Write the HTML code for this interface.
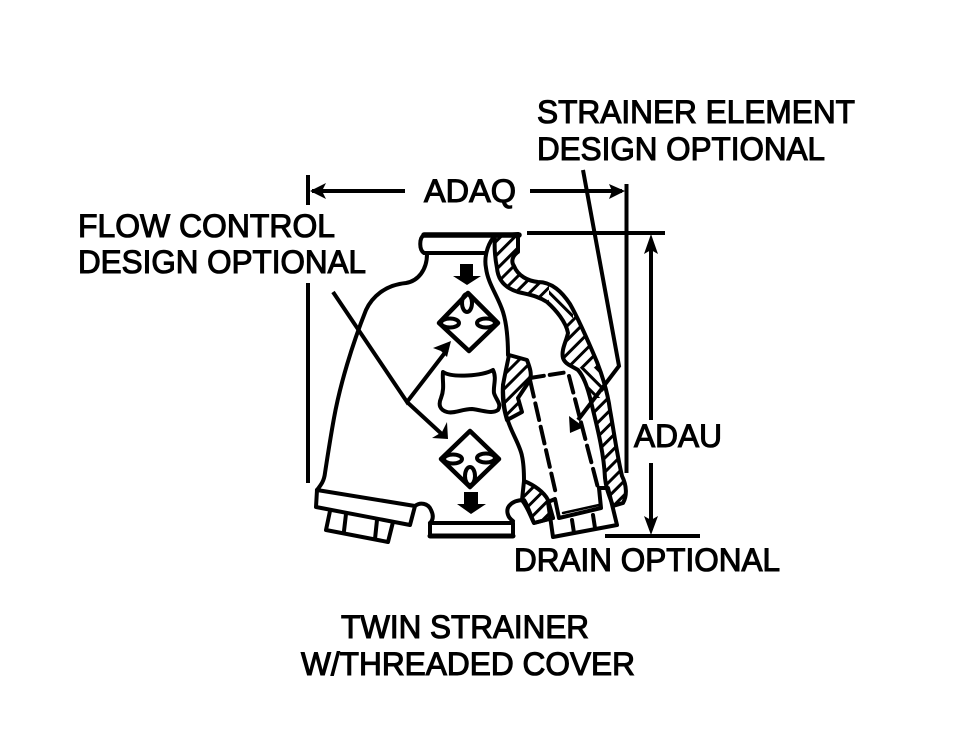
<!DOCTYPE html>
<html><head><meta charset="utf-8"><title>Twin Strainer</title>
<style>html,body{margin:0;padding:0;background:#fff;width:960px;height:735px;overflow:hidden}svg{display:block}
text{font-family:"Liberation Sans",sans-serif;font-size:32px;fill:#000;stroke:#000;stroke-width:1.1px}</style></head>
<body>
<svg width="960" height="735" viewBox="0 0 960 735" xmlns="http://www.w3.org/2000/svg">
<defs>
<pattern id="h" width="10" height="10" patternUnits="userSpaceOnUse" patternTransform="rotate(45)">
<rect width="10" height="10" fill="#fff"/><rect width="3" height="10" fill="#000"/>
</pattern>
<pattern id="h2" width="10" height="10" patternUnits="userSpaceOnUse" patternTransform="rotate(-45)">
<rect width="10" height="10" fill="#fff"/><rect width="3" height="10" fill="#000"/>
</pattern>
<path id="hp" d="M495 236 L518 234 L518 252 C512 256 511 262 514 266 C518 276 528 281 538 282 C552 282 562 292 570 304 C578 318 586 336 597 362 C604 380 608 395 610 410 C614 432 617 455 622 476 C627 486 627 496 623 503 L613 506 C609 495 606 488 605 478 C604 455 598 430 593 410 C589 392 585 378 578 370 C570 365 565 364 563 358 C561 350 566 342 568 333 C566 322 556 310 547 302 C538 296 530 295 518 292 C505 288 498 280 497 268 C495 258 494 248 495 236 Z"/>
<clipPath id="c"><use href="#hp"/></clipPath>
</defs>
<rect width="960" height="735" fill="#fff"/>
<use href="#hp" fill="url(#h)"/>
<g clip-path="url(#c)">
<rect x="549" y="282" width="24" height="36" fill="url(#h2)"/>
<rect x="578" y="368" width="24" height="30" fill="url(#h2)"/>
</g>
<use href="#hp" fill="none" stroke="#000" stroke-width="4" stroke-linejoin="round"/>
<g fill="url(#h)" stroke="#000" stroke-width="4" stroke-linejoin="round">
<!-- central hatched web -->
<path d="M509 355 L527 360 C530 368 532 374 530 380 C526 386 522 392 518 398 L522 412 L507 420 C504 410 502 400 503 385 C505 374 507 365 509 355 Z"/>
<!-- lower hatched lump -->
<path d="M524 481 C534 485 544 492 548 500 L553 518 L534 523 C530 515 528 508 522 500 Z"/>
</g>
<g fill="none" stroke="#000" stroke-width="4" stroke-linecap="round" stroke-linejoin="round">
<!-- top flange -->
<path d="M424 235 H519" stroke-width="5.500"/>
<path d="M424 235 C419 238 419 250 424 253 H486"/>
<!-- body left outline -->
<path d="M427 254 C427 270 418 281 406 283 C385 285 372 297 366 310 C352 345 340 385 334 418 C330 440 327 460 325 473 C324 482 320 486 317 490"/>
<!-- cover plate -->
<path d="M317 490 L415 506 L410 525 L316 507 Z"/>
<!-- hex nut -->
<path d="M330 511 L326 530 L388 542 L393 522"/>
<path d="M346 514 L344 531"/>
<path d="M377 520 L375 539"/>
<!-- neck left -->
<path d="M415 506 C420 502 428 503 431 510 C434 516 433 520 430 523"/>
<!-- bottom flange -->
<path d="M430 523 H513 V536 H430 Z"/>
<path d="M430 536 H513" stroke-width="5"/>
<!-- neck right -->
<path d="M513 521 C507 517 506 510 509 506 C513 501 519 500 524 500 C527 504 531 516 534 523 L553 518"/>
<!-- central divider -->
<path d="M493 238 C487 246 484 258 486 268 C488 284 498 296 503 312 C507 325 508 340 508 355"/>
<path d="M503 385 C503 398 504 410 507 418 C511 432 520 445 522 456 C524 465 524 473 524 481"/>
<!-- centre window -->
<path d="M443 372 C452 378 482 376 493 370 C497 378 493 386 494 393 C496 400 502 404 498 410 C492 414 486 411 472 409 C462 409 454 414 447 412 C440 410 438 405 441 398 C445 388 442 380 443 372 Z"/>
<!-- diamonds -->
<path d="M468 293 L498 323 L469 351 L439 323 Z" stroke-width="4.500"/>
<path d="M470 431 L499 459 L470 487 L441 459 Z" stroke-width="4.500"/>
<ellipse cx="467" cy="303" rx="5" ry="9"/>
<ellipse cx="450" cy="323" rx="9" ry="4.500"/>
<ellipse cx="486" cy="323" rx="9" ry="4.500"/>
<ellipse cx="453" cy="459" rx="9" ry="4.500"/>
<ellipse cx="486" cy="458" rx="9" ry="4.500"/>
<ellipse cx="470" cy="476" rx="5" ry="9"/>
<!-- strainer element -->
<path d="M530 378 L568 372" stroke-dasharray="14 6"/>
<path d="M530 380 L556 494" stroke-dasharray="17 7"/>
<path d="M569 376 L598 488" stroke-dasharray="17 7"/>
<!-- plug -->
<path d="M548 502 L555 499 L559 518 L601 508 L599 488 L608 488 L617 525 L553 537 Z"/>
<path d="M563 513 L599 505" stroke-width="2.500"/>
<path d="M572 520 L574 533 M593 515 L595 528"/>
</g>
<!-- flow arrows -->
<path d="M460 264 H473 V276 H481 L467 285 L453 276 H460 Z" fill="#000"/>
<path d="M464 492 H478 V504 H486 L471 514 L457 504 H464 Z" fill="#000"/>
<g fill="none" stroke="#000" stroke-width="4">
<!-- leaders -->
<path d="M333 292 L407 402 L447 350"/>
<path d="M407 402 L445 437"/>
<path d="M583 170 L619 366 L578 420"/>
<!-- dimension lines -->
<path d="M308 175 V205 M308 283 V483"/>
<path d="M312 191 H405 M530 191 H622"/>
<path d="M626.500 184 V473"/>
<path d="M527 233 H665 M605 536 H700"/>
<path d="M651 240 V420 M651 463 V530"/>
</g>
<!-- arrowheads -->
<g fill="#000">
<path d="M310 191 L326 183 L322 191 L326 199 Z"/>
<path d="M625 191 L609 184 L612 191 L609 199 Z"/>
<path d="M651 234 L644 254 L651 250 L658 254 Z"/>
<path d="M651 535 L644 516 L651 520 L658 516 Z"/>
<path d="M451 341 L433 348 L441 351 L447 357 Z"/>
<path d="M448 439 L432 438 L442 432 L447 422 Z"/>
<path d="M570 433 L569 416 L584 427 Z"/>
</g>
<text x="537" y="123" textLength="318" lengthAdjust="spacingAndGlyphs">STRAINER ELEMENT</text>
<text x="537" y="160" textLength="288" lengthAdjust="spacingAndGlyphs">DESIGN OPTIONAL</text>
<text x="424" y="202" textLength="92" lengthAdjust="spacingAndGlyphs">ADAQ</text>
<text x="78" y="237" textLength="257" lengthAdjust="spacingAndGlyphs">FLOW CONTROL</text>
<text x="78" y="273" textLength="288" lengthAdjust="spacingAndGlyphs">DESIGN OPTIONAL</text>
<text x="634" y="447" textLength="88" lengthAdjust="spacingAndGlyphs">ADAU</text>
<text x="514" y="571" textLength="266" lengthAdjust="spacingAndGlyphs">DRAIN OPTIONAL</text>
<text x="341" y="638" textLength="248" lengthAdjust="spacingAndGlyphs">TWIN STRAINER</text>
<text x="301" y="675" textLength="334" lengthAdjust="spacingAndGlyphs">W/THREADED COVER</text>
</svg>
</body></html>
